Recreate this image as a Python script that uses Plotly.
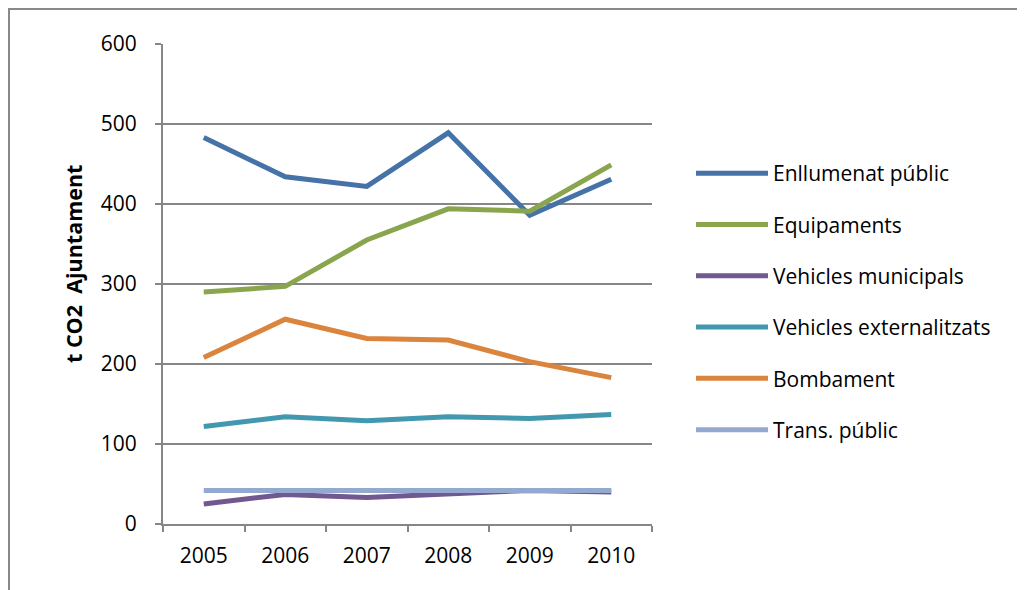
import plotly.graph_objects as go

years = ["2005", "2006", "2007", "2008", "2009", "2010"]
enllumenat = [483, 434, 422, 489, 386, 431]
equipaments = [290, 297, 355, 394, 391, 449]
vehicles_municipals = [25, 37, 33, 38, 42, 40]
vehicles_externalitzats = [122, 134, 129, 134, 132, 137]
bombament = [208, 256, 232, 230, 203, 183]
trans_public = [42, 42, 42, 42, 43, 42]
y_title = "t CO2\u00a0 Ajuntament"

series = [
    ("Enllumenat públic", enllumenat, "#4572A7"),
    ("Equipaments", equipaments, "#89A54E"),
    ("Vehicles municipals", vehicles_municipals, "#71588F"),
    ("Vehicles externalitzats", vehicles_externalitzats, "#4198AF"),
    ("Bombament", bombament, "#DB843D"),
    ("Trans. públic", trans_public, "#93A9CF"),
]

FONT = "Open Sans"
fig = go.Figure()
for i, (name, vals, col) in enumerate(series):
    fig.add_trace(go.Scatter(
        x=years, y=vals, name=name, mode="lines",
        line=dict(color=col, width=5), legendgroup=f"g{i}",
    ))

W, H = 1025, 590
# figure coordinates (page has an 8px body offset)
L, R, T, B = 155, 644, 36, 516
pw, ph = R - L, B - T
fig.update_layout(
    width=W, height=H,
    margin=dict(l=L, r=W - R, t=T, b=H - B, autoexpand=False),
    paper_bgcolor="white", plot_bgcolor="white",
    font=dict(family=FONT, size=21, color="black"),
    showlegend=True,
    legend=dict(
        x=(683 - L) / pw, xanchor="left",
        y=(B - 145) / ph, yanchor="top", yref="paper",
        tracegroupgap=21, font=dict(family=FONT, size=21),
        bgcolor="rgba(0,0,0,0)", itemwidth=72,
    ),
    xaxis=dict(
        type="category", range=[-0.5, 5.5], tickson="boundaries",
        ticks="outside", ticklen=6, tickwidth=2, tickcolor="#868686",
        showline=True, linecolor="#868686", linewidth=2,
        showgrid=False, zeroline=False, ticklabelstandoff=12,
        tickfont=dict(family=FONT, size=21),
    ),
    yaxis=dict(
        range=[0, 600], dtick=100, ticks="outside", ticklen=6, tickwidth=2,
        tickcolor="#868686", showline=True, linecolor="#868686", linewidth=2,
        showgrid=True, gridcolor="#868686", gridwidth=2, zeroline=False,
        ticklabelstandoff=14, tickfont=dict(family=FONT, size=21),
    ),
)

# y-axis title (sits slightly above the axis centre, as in the original)
fig.add_annotation(
    text=f"<b>{y_title}</b>", textangle=-90, showarrow=False,
    xref="paper", yref="paper",
    x=(65 - L) / pw, y=(B - 256) / ph, xanchor="center", yanchor="middle",
    font=dict(family=FONT, size=21.5, color="black"),
)

# outer chart border
fig.add_shape(type="rect", xref="paper", yref="paper",
              x0=(1 - L) / pw, x1=(1040 - L) / pw,
              y0=(B - 600) / ph, y1=(B - 1) / ph,
              line=dict(color="#898989", width=2), fillcolor="rgba(0,0,0,0)",
              layer="below")

fig.write_html("out.html")
